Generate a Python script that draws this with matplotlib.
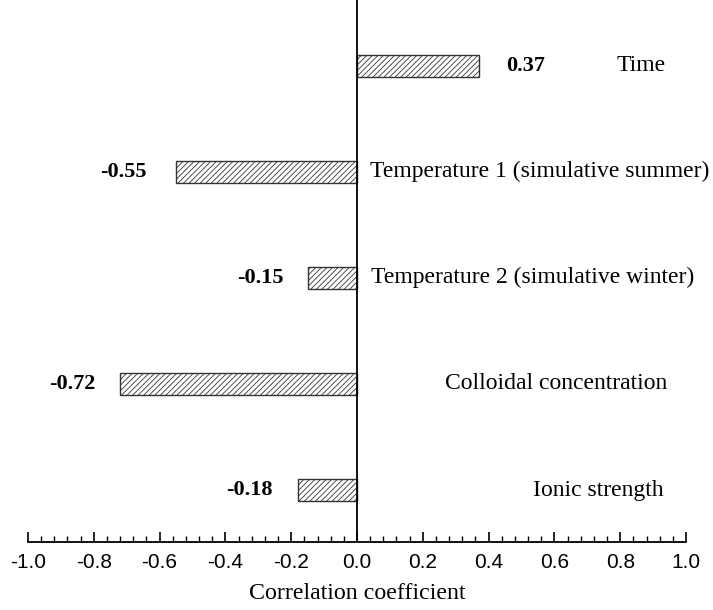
import numpy as np
import matplotlib.pyplot as plt
from matplotlib.ticker import MultipleLocator, FuncFormatter

factors = ['Ionic strength', 'Colloidal concentration',
           'Temperature 2 (simulative winter)',
           'Temperature 1 (simulative summer)', 'Time']
coef = [-0.18, -0.72, -0.15, -0.55, 0.37]

# where each factor name sits along x, and the gap between bar end and value
name_x = [0.733, 0.605, 0.534, 0.556, 0.863]
val_gap = [0.076, 0.076, 0.074, 0.088, 0.084]

plt.rcParams['hatch.linewidth'] = 0.6

fig = plt.figure(figsize=(7.13, 6.10), dpi=100)
ax = fig.add_axes([28/713, 1 - 542/610, 658/713, 542/610])

ypos = np.arange(len(factors))
ax.barh(ypos, coef, height=0.21, color='white', edgecolor='#333333',
        hatch='//////', linewidth=1.0)

for y, v, g, nx, name in zip(ypos, coef, val_gap, name_x, factors):
    if v > 0:
        ax.text(v + g, y, '%.2f' % v, ha='left', va='center',
                fontsize=16, fontweight='bold', family='Liberation Serif')
    else:
        ax.text(v - g, y, '%.2f' % v, ha='right', va='center',
                fontsize=16, fontweight='bold', family='Liberation Serif')
    ax.text(nx, y, name, ha='center', va='center', fontsize=17,
            family='Liberation Serif', clip_on=False)

ax.set_xlim(-1.0, 1.0)
ax.set_ylim(-0.49, 4.62)
ax.axvline(0, color='black', lw=1.3)

for s in ['top', 'right', 'left']:
    ax.spines[s].set_visible(False)
ax.spines['bottom'].set_linewidth(1.3)
ax.set_yticks([])
ax.xaxis.set_major_locator(MultipleLocator(0.2))
ax.xaxis.set_minor_locator(MultipleLocator(0.04))
ax.xaxis.set_major_formatter(FuncFormatter(lambda t, p: '%.1f' % (t + 0.0)))
ax.tick_params(axis='x', which='major', direction='in', length=7, width=1.2,
               labelsize=15, pad=8)
ax.tick_params(axis='x', which='minor', direction='in', length=4, width=1.0)
for lab in ax.get_xticklabels():
    lab.set_family('Liberation Sans')
ax.set_xlabel('Correlation coefficient', family='Liberation Serif',
              fontsize=17.2, labelpad=8)

fig.savefig('out.png', dpi=100)
